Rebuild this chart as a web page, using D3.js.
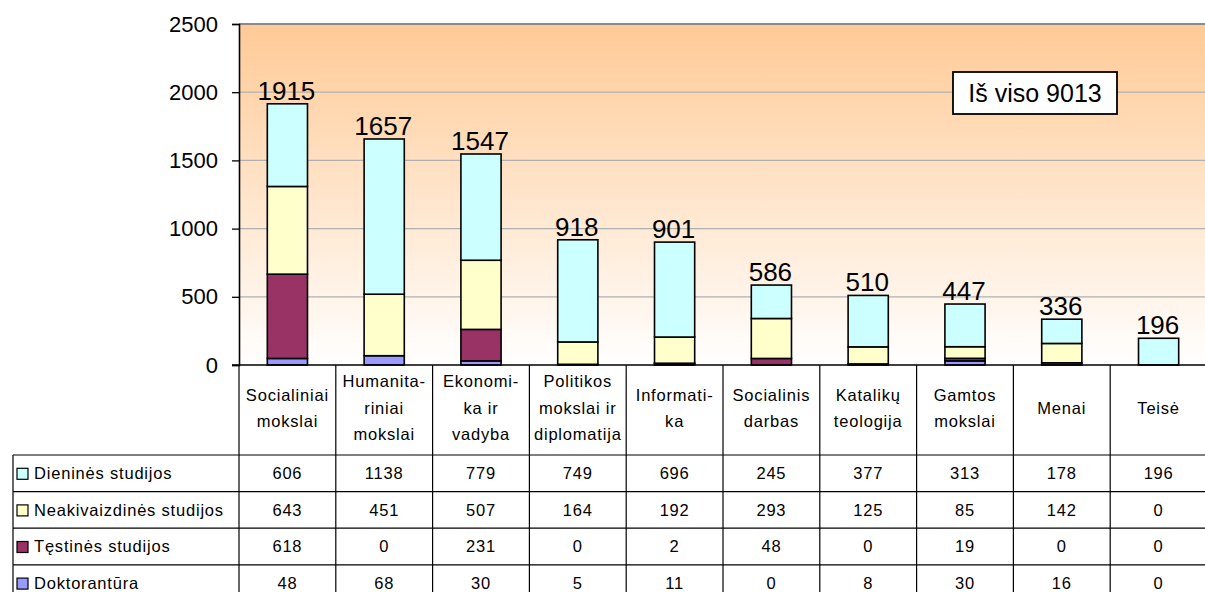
<!DOCTYPE html>
<html>
<head>
<meta charset="utf-8">
<script src="https://cdn.jsdelivr.net/npm/d3@7"></script>
<style>
body{margin:0;background:#fff;}
svg{display:block;font-family:Arial,'Liberation Sans',sans-serif;}
</style>
</head>
<body>
<svg id="chart" width="1205" height="592"></svg>
<script>
// categories (header lines as they break in the table)
var categories = ['Socialiniai mokslai','Humanitariniai mokslai','Ekonomika ir vadyba','Politikos mokslai ir diplomatija','Informatika','Socialinis darbas','Katalikų teologija','Gamtos mokslai','Menai','Teisė'];
var headerLines = [['Socialiniai','mokslai'],['Humanita-','riniai','mokslai'],['Ekonomi-','ka ir','vadyba'],['Politikos','mokslai ir','diplomatija'],['Informati-','ka'],['Socialinis','darbas'],['Katalikų','teologija'],['Gamtos','mokslai'],['Menai'],['Teisė']];

var seriesNames = ['Dieninės studijos','Neakivaizdinės studijos','Tęstinės studijos','Doktorantūra'];
var seriesColors = ['#CCFFFF','#FFFFCC','#993366','#9999FF'];

var dienines = [606,1138,779,749,696,245,377,313,178,196];
var neakivaizdines = [643,451,507,164,192,293,125,85,142,0];
var testines = [618,0,231,0,2,48,0,19,0,0];
var doktorantura = [48,68,30,5,11,0,8,30,16,0];

var yTicks = [0,500,1000,1500,2000,2500];

var series = [dienines, neakivaizdines, testines, doktorantura];

var svg = d3.select('#chart');
var plotL = 239, plotR = 1207, plotT = 24, plotB = 365;
var rowH = 36.6, headH = 90, legLeft = 13;

var x = d3.scaleBand().domain(d3.range(categories.length)).range([plotL, plotR]);
var y = d3.scaleLinear().domain([0, 2500]).range([plotB, plotT]);

// background gradient
var grad = svg.append('defs').append('linearGradient').attr('id','bg')
	.attr('x1',0).attr('y1',0).attr('x2',0).attr('y2',1);
grad.append('stop').attr('offset','0%').attr('stop-color','#FFCA96');
grad.append('stop').attr('offset','100%').attr('stop-color','#FFFFFF');

svg.append('rect').attr('x',plotL).attr('y',plotT).attr('width',plotR-plotL).attr('height',plotB-plotT)
	.attr('fill','url(#bg)');

// gridlines
svg.append('g').selectAll('line').data(yTicks.filter(function(d){ return d>0; })).enter().append('line')
	.attr('x1',plotL).attr('x2',plotR)
	.attr('y1',function(d){ return y(d); }).attr('y2',function(d){ return y(d); })
	.attr('stroke',function(d){ return d==2500 ? '#8a8a8a' : '#b0b0b0'; })
	.attr('stroke-width',function(d){ return d==2500 ? 2 : 1.3; });

// stacked bars, bottom series first
var stackOrder = [3,2,1,0];
var bw = x.bandwidth()*0.415;
categories.forEach(function(c, i){
	var base = 0;
	stackOrder.forEach(function(s){
		var v = series[s][i];
		if(v>0){
			svg.append('rect')
				.attr('x', x(i)+(x.bandwidth()-bw)/2)
				.attr('y', y(base+v))
				.attr('width', bw)
				.attr('height', y(base)-y(base+v))
				.attr('fill', seriesColors[s])
				.attr('stroke','#000').attr('stroke-width',1.6);
		}
		base += v;
	});
});

// totals above bars
var totals = categories.map(function(c,i){ return d3.sum(series, function(s){ return s[i]; }); });
svg.append('g').selectAll('text').data(totals).enter().append('text')
	.attr('x', function(d,i){ return x(i)+x.bandwidth()/2-1; })
	.attr('y', function(d){ return y(d)-4; })
	.attr('text-anchor','middle')
	.attr('font-size',26)
	.text(function(d){ return d; });

// y axis
var yAxis = svg.append('g').attr('transform','translate('+plotL+',0)')
	.call(d3.axisLeft(y).tickValues(yTicks).tickFormat(d3.format('d')).tickSize(7).tickPadding(14));
yAxis.select('.domain').attr('stroke','#000').attr('stroke-width',1.6);
yAxis.selectAll('.tick line').attr('stroke','#000').attr('stroke-width',1.3);
yAxis.selectAll('.tick text').attr('font-size',22).attr('fill','#000')
	.attr('font-family','Arial,"Liberation Sans",sans-serif');

// x axis line
svg.append('line').attr('x1',plotL-7).attr('x2',plotR).attr('y1',plotB).attr('y2',plotB)
	.attr('stroke','#000').attr('stroke-width',1.6);

// data table
var tbl = svg.append('g').attr('font-size',16.5).attr('letter-spacing',0.8);
var tableTop = plotB, dataTop = plotB + headH;

// column separators
d3.range(categories.length+1).forEach(function(i){
	var xx = i<categories.length ? x(i) : plotR;
	tbl.append('line').attr('x1',xx).attr('x2',xx).attr('y1',tableTop).attr('y2',592)
		.attr('stroke','#000').attr('stroke-width',1.2);
});
// row lines
d3.range(seriesNames.length+1).forEach(function(r){
	tbl.append('line').attr('x1',legLeft).attr('x2',plotR)
		.attr('y1',dataTop+r*rowH).attr('y2',dataTop+r*rowH)
		.attr('stroke','#000').attr('stroke-width',1.2);
});
tbl.append('line').attr('x1',legLeft).attr('x2',legLeft).attr('y1',dataTop).attr('y2',592)
	.attr('stroke','#000').attr('stroke-width',1.2);

// header text
headerLines.forEach(function(lines, i){
	var lh = 26.5;
	var y0 = 408 - (lines.length-1)*lh/2;
	lines.forEach(function(t, k){
		tbl.append('text').attr('x', x(i)+x.bandwidth()/2).attr('y', y0+k*lh)
			.attr('dy','0.35em').attr('text-anchor','middle').text(t);
	});
});

// rows
seriesNames.forEach(function(name, r){
	var cy = dataTop + r*rowH + rowH/2;
	tbl.append('rect').attr('x',17).attr('y',cy-5).attr('width',11).attr('height',11)
		.attr('fill',seriesColors[r]).attr('stroke','#000').attr('stroke-width',1.2);
	tbl.append('text').attr('x',34).attr('y',cy).attr('dy','0.35em').text(name);
	series[r].forEach(function(v, i){
		tbl.append('text').attr('x', x(i)+x.bandwidth()/2).attr('y', cy)
			.attr('dy','0.35em').attr('text-anchor','middle').text(v);
	});
});

// total box
var tb = svg.append('g');
tb.append('rect').attr('x',953).attr('y',72).attr('width',164).attr('height',42)
	.attr('fill','#fff').attr('stroke','#000').attr('stroke-width',1.8);
tb.append('text').attr('x',1035).attr('y',93).attr('dy','0.35em').attr('text-anchor','middle')
	.attr('font-size',25).text('Iš viso ' + d3.sum(totals));
</script>
</body>
</html>
